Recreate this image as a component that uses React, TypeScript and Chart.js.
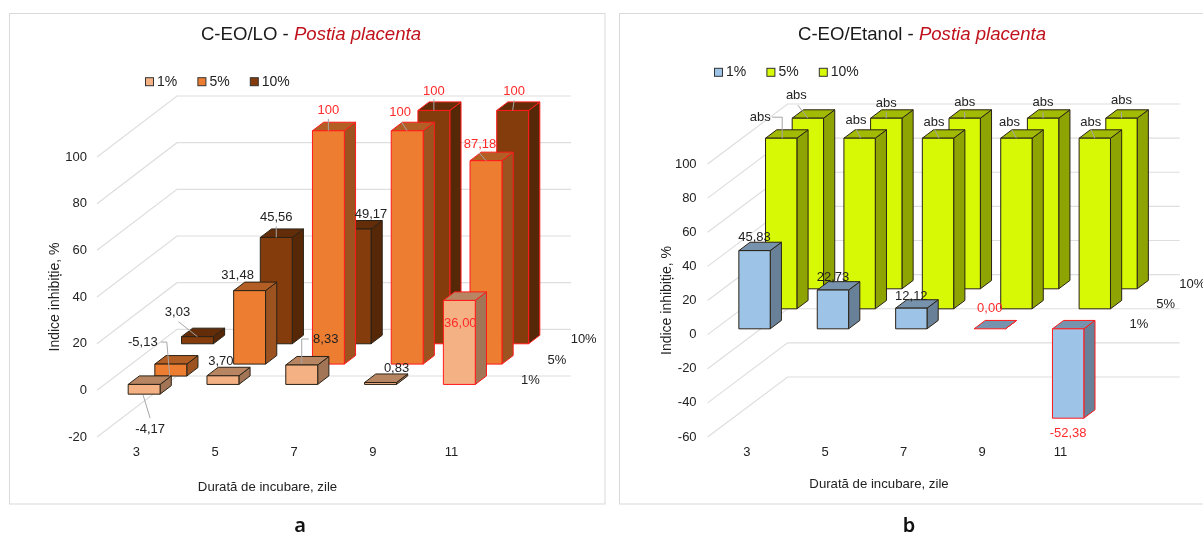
import React, { useEffect, useRef } from "react";
import { Chart, registerables } from "chart.js";

Chart.register(...registerables);

const SANS = '"Liberation Sans", Arial, sans-serif';

// Shared incubation days on the category axis
const days = ["3", "5", "7", "9", "11"];
const seriesNames = ["1%", "5%", "10%"];

// Panel a: C-EO/LO
const lo1 = [-4.17, 3.7, 8.33, 0.83, 36.0];
const lo5 = [-5.13, 31.48, 100, 100, 87.18];
const lo10 = [3.03, 45.56, 49.17, 100, 100];

// Panel b: C-EO/Etanol
const et1 = [45.83, 22.73, 12.12, 0.0, -52.38];
const et5 = [100, 100, 100, 100, 100];
const et10 = [100, 100, 100, 100, 100];

// Bars whose outline and label are emphasised in red
const loRed = [
  [false, false, false, false, true],
  [false, false, true, true, true],
  [false, false, false, true, true],
];
const etRed = [
  [false, false, false, true, true],
  [false, false, false, false, false],
  [false, false, false, false, false],
];

type Callout = { d: [number, number]; line?: [number, number][] };

// Label placement relative to the bar's value end, with optional leader lines
const loCallouts: Callout[][] = [
  [
    { d: [6, 35], line: [[-1, 1], [6, 24]] },
    { d: [-2, -14] },
    { d: [24, -26], line: [[0, -1], [0, -26], [7, -26]] },
    { d: [16, -14] },
    { d: [1, 23] },
  ],
  [
    { d: [-28, -34], line: [[-1, 0], [-4, -34], [-10, -34]] },
    { d: [-12, -15] },
    { d: [0, -20], line: [[0, -12], [0, 0]] },
    { d: [-7, -18], line: [[-6, -9], [0, 0]] },
    { d: [-6, -16], line: [[-7, -8], [0, 0]] },
  ],
  [
    { d: [-20, -24], line: [[-19, -15], [0, 0]] },
    { d: [0, -20], line: [[0, -11], [0, 0]] },
    { d: [16, -15] },
    { d: [0, -19], line: [[0, -11], [0, 0]] },
    { d: [1.5, -19], line: [[1.5, -10], [0, 0]] },
  ],
];
const etCallouts: Callout[][] = [
  [{ d: [0, -13] }, { d: [0, -13] }, { d: [0, -12] }, { d: [0, -20] }, { d: [0, 15] }],
  [
    { d: [-21, -21], line: [[-9, -21], [1, -21], [1, 0]] },
    { d: [-3.5, -17.6], line: [[-3.5, -9], [1, 0]] },
    { d: [-4, -16], line: [[-3.5, -9], [1, 0]] },
    { d: [-7, -16], line: [[-5, -9], [0, 0]] },
    { d: [-4, -16], line: [[-4, -9], [0, 0]] },
  ],
  [
    { d: [-11.5, -22.4], line: [[-10, -13], [0, 0]] },
    { d: [0, -15], line: [[0, -6], [0, 0]] },
    { d: [0, -16], line: [[0, -6], [0, 0]] },
    { d: [0, -16], line: [[0, -6], [0, 0]] },
    { d: [0, -17.4], line: [[0, -6], [0, 0]] },
  ],
];

const shade = (hex: string, f: number) => {
  const n = parseInt(hex.slice(1), 16);
  const c = [(n >> 16) & 255, (n >> 8) & 255, n & 255].map((v) => Math.round(v * f));
  return `rgb(${c[0]},${c[1]},${c[2]})`;
};

const fmt = (v: number) => (v === 100 ? "100" : v.toFixed(2).replace(".", ","));

// Bars sit in three rows receding along an oblique depth axis
const BOX = 0.42;
const rowOffset = (o: any, k: number) => ({
  x: (o.depthX / 3) * (k + (1 - BOX) / 2),
  y: (o.depthY / 3) * (k + (1 - BOX) / 2),
});

const oblique3d = {
  id: "oblique3d",
  beforeDatasetsDraw(chart: any, _a: any, o: any) {
    const { ctx, chartArea: area, scales } = chart;
    const line = (pts: number[][]) => {
      ctx.beginPath();
      pts.forEach((p, i) => (i ? ctx.lineTo(p[0], p[1]) : ctx.moveTo(p[0], p[1])));
      ctx.stroke();
    };
    ctx.save();
    // Panel frame
    ctx.strokeStyle = "#d9d9d9";
    ctx.lineWidth = 1;
    ctx.strokeRect(o.frame[0], o.frame[1], o.frame[2], o.frame[3]);
    // Side wall and back wall gridlines
    ctx.strokeStyle = "#dedede";
    ctx.lineWidth = 1.2;
    scales.y.ticks.forEach((t: any) => {
      const py = scales.y.getPixelForValue(t.value);
      line([
        [area.left, py],
        [area.left + o.depthX, py + o.depthY],
        [area.right + o.depthX, py + o.depthY],
      ]);
    });
    // Boxes, rear row first
    for (let k = 2; k >= 0; k--) {
      const off = rowOffset(o, k);
      const sx = (o.depthX / 3) * BOX;
      const sy = (o.depthY / 3) * BOX;
      const meta = chart.getDatasetMeta(k);
      const color = chart.data.datasets[k].backgroundColor;
      meta.data.forEach((el: any, i: number) => {
        const l = el.x - el.width / 2 + off.x;
        const r = el.x + el.width / 2 + off.x;
        const top = Math.min(el.y, el.base) + off.y;
        const bot = Math.max(el.y, el.base) + off.y;
        ctx.strokeStyle = o.red[k][i] ? "#ff1a1a" : "#2b2216";
        ctx.lineWidth = 1;
        ctx.lineJoin = "round";
        const face = (pts: number[][], fill: string) => {
          ctx.beginPath();
          pts.forEach((p, n) => (n ? ctx.lineTo(p[0], p[1]) : ctx.moveTo(p[0], p[1])));
          ctx.closePath();
          ctx.fillStyle = fill;
          ctx.fill();
          ctx.stroke();
        };
        face([[r, top], [r + sx, top + sy], [r + sx, bot + sy], [r, bot]], shade(color, 0.66));
        face([[l, top], [l + sx, top + sy], [r + sx, top + sy], [r, top]], shade(color, 0.75));
        if (bot - top > 0.5) face([[l, top], [r, top], [r, bot], [l, bot]], color);
      });
    }
    ctx.restore();
  },
  beforeDatasetDraw() {
    return false;
  },
  afterDatasetsDraw(chart: any, _a: any, o: any) {
    const { ctx, chartArea: area, scales } = chart;
    ctx.save();
    ctx.textBaseline = "middle";

    // Two-tone heading
    ctx.font = `18.6px ${SANS}`;
    const w1 = ctx.measureText(o.heading).width;
    const w2Font = `italic 18.6px ${SANS}`;
    ctx.font = w2Font;
    const w2 = ctx.measureText(o.species).width;
    const hx = o.headingAt[0] - (w1 + w2) / 2;
    ctx.textAlign = "left";
    ctx.font = `18.6px ${SANS}`;
    ctx.fillStyle = "#1a1a1a";
    ctx.fillText(o.heading, hx, o.headingAt[1]);
    ctx.font = w2Font;
    ctx.fillStyle = "#c0121c";
    ctx.fillText(o.species, hx + w1, o.headingAt[1]);

    // Legend row
    ctx.font = `14px ${SANS}`;
    seriesNames.forEach((name, k) => {
      const x = o.legendAt[0] + o.legendStep * k;
      const y = o.legendAt[1];
      ctx.fillStyle = chart.data.datasets[k].backgroundColor;
      ctx.strokeStyle = "#333";
      ctx.lineWidth = 1;
      ctx.fillRect(x, y - 4, 8, 8);
      ctx.strokeRect(x, y - 4, 8, 8);
      ctx.fillStyle = "#222";
      ctx.fillText(name, x + 11.5, y);
    });

    // Category axis caption
    ctx.font = `13.2px ${SANS}`;
    ctx.textAlign = "center";
    ctx.fillStyle = "#222";
    ctx.fillText("Durată de incubare, zile", o.captionAt[0], o.captionAt[1]);

    // Depth axis labels beside each row
    ctx.font = `13px ${SANS}`;
    const zero = scales.y.getPixelForValue(0);
    seriesNames.forEach((name, k) => {
      const off = rowOffset(o, k);
      ctx.fillText(name, area.right + (o.depthX / 3) * (k + 0.5) + 26, zero + off.y - 4);
    });

    // Value labels and their leaders
    for (let k = 2; k >= 0; k--) {
      const off = rowOffset(o, k);
      const meta = chart.getDatasetMeta(k);
      meta.data.forEach((el: any, i: number) => {
        const c: Callout = o.callouts[k][i];
        const ax = el.x + off.x;
        const ay = el.y + off.y;
        if (c.line) {
          ctx.strokeStyle = "#a6a6a6";
          ctx.lineWidth = 1;
          ctx.beginPath();
          c.line.forEach((p, n) =>
            n ? ctx.lineTo(ax + p[0], ay + p[1]) : ctx.moveTo(ax + p[0], ay + p[1])
          );
          ctx.stroke();
        }
        const v = chart.data.datasets[k].data[i];
        const text = o.saturated && k > 0 ? "abs" : fmt(v);
        ctx.fillStyle = o.red[k][i] ? "#ff2a2a" : "#222";
        ctx.font = `13px ${SANS}`;
        ctx.fillText(text, ax + c.d[0], ay + c.d[1]);
      });
    }
    ctx.restore();
  },
};

function Panel(props: any) {
  const ref = useRef<HTMLCanvasElement>(null);
  useEffect(() => {
    const p = props;
    const chart = new Chart(ref.current as any, {
      type: "bar",
      data: {
        labels: days,
        datasets: p.series.map((values: number[], k: number) => ({
          label: seriesNames[k],
          data: values,
          backgroundColor: p.colors[k],
          grouped: false,
          barPercentage: 1,
          categoryPercentage: p.barShare,
        })),
      },
      plugins: [oblique3d],
      options: {
        animation: false,
        responsive: false,
        layout: {
          padding: { left: 0, top: p.area.top, right: p.width - p.area.right, bottom: 0 },
        },
        plugins: {
          legend: { display: false },
          tooltip: { enabled: false },
          oblique3d: {
            depthX: p.depth[0],
            depthY: p.depth[1],
            frame: p.frame,
            red: p.red,
            callouts: p.callouts,
            saturated: p.saturated,
            heading: p.heading,
            species: "Postia placenta",
            headingAt: p.headingAt,
            legendAt: p.legendAt,
            legendStep: p.legendStep,
            captionAt: p.captionAt,
          },
        },
        scales: {
          x: {
            grid: { display: false, drawTicks: false },
            border: { display: false },
            ticks: { color: "#222", font: { family: SANS, size: 13 }, padding: 8, maxRotation: 0, autoSkip: false },
            afterFit(s: any) {
              s.height = 535 - p.area.bottom;
            },
          },
          y: {
            min: p.range[0],
            max: p.range[1],
            grid: { display: false, drawTicks: false },
            border: { display: false },
            ticks: { stepSize: 20, color: "#222", font: { family: SANS, size: 13 }, padding: p.tickGap },
            title: {
              display: true,
              text: "Indice inhibiție, %",
              color: "#222",
              font: { family: SANS, size: 14 },
              padding: { top: p.titleInset, bottom: 0 },
            },
            afterFit(s: any) {
              s.width = p.area.left;
            },
          },
        },
      } as any,
    });
    return () => chart.destroy();
  }, []);
  return (
    <canvas
      ref={ref}
      width={props.width}
      height={535}
      style={{ position: "absolute", left: props.left, top: 0, display: "block" }}
    />
  );
}

const captionStyle = (x: number): React.CSSProperties => ({
  position: "absolute",
  left: x,
  top: 512,
  width: 40,
  textAlign: "center",
  font: `600 20px "Noto Sans", sans-serif`,
  color: "#111",
  lineHeight: "26px",
});

export default function App() {
  return (
    <div style={{ position: "fixed", left: 0, top: 0, width: 1203, height: 535, background: "#fff", overflow: "hidden" }}>
      <Panel
        left={0}
        width={612}
        area={{ left: 97, right: 491, top: 157, bottom: 437 }}
        range={[-20, 100]}
        depth={[80, -61]}
        barShare={0.405}
        frame={[9.5, 13.5, 595.5, 490.5]}
        series={[lo1, lo5, lo10]}
        colors={["#f4b183", "#ed7d31", "#843c0c"]}
        red={loRed}
        callouts={loCallouts}
        saturated={false}
        heading="C-EO/LO - "
        headingAt={[311, 35]}
        legendAt={[145.5, 81.7]}
        legendStep={52.4}
        captionAt={[267.5, 487.5]}
        titleInset={47}
        tickGap={10}
      />
      <Panel
        left={612}
        width={591}
        area={{ left: 95.6, right: 487.6, top: 164, bottom: 437 }}
        range={[-60, 100]}
        depth={[80, -60]}
        barShare={0.4}
        frame={[7.5, 13.5, 620, 490.5]}
        series={[et1, et5, et10]}
        colors={["#9dc3e6", "#d7f905", "#d7f905"]}
        red={etRed}
        callouts={etCallouts}
        saturated={true}
        heading="C-EO/Etanol - "
        headingAt={[310, 34.5]}
        legendAt={[102.5, 72.3]}
        legendStep={52.4}
        captionAt={[267, 484.5]}
        titleInset={47}
        tickGap={11}
      />
      <div style={captionStyle(280)}>a</div>
      <div style={captionStyle(889)}>b</div>
    </div>
  );
}
